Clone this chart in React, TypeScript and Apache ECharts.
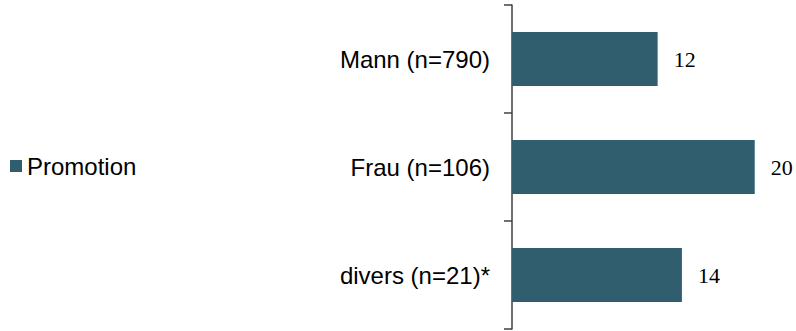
import React, { useEffect, useRef } from "react";
import * as echarts from "echarts";

const categories = ["Mann (n=790)", "Frau (n=106)", "divers (n=21)*"];
const seriesName = "Promotion";
const values = [12, 20, 14];

export default function App() {
  const ref = useRef<HTMLDivElement>(null);
  useEffect(() => {
    if (!ref.current) return;
    const chart = echarts.init(ref.current, null, { renderer: "svg" });
    chart.setOption({
      animation: false,
      backgroundColor: "#ffffff",
      legend: {
        data: [seriesName],
        left: 5,
        top: 149,
        orient: "vertical",
        itemWidth: 12,
        itemHeight: 12,
        icon: "rect",
        textStyle: { fontFamily: "Liberation Sans, Arial, sans-serif", fontSize: 24, color: "#000" },
      },
      grid: { left: 512, top: 5, bottom: 2, right: 17, containLabel: false },
      xAxis: {
        type: "value",
        min: 0,
        max: 22,
        show: false,
      },
      yAxis: {
        type: "category",
        data: categories,
        inverse: true,
        axisLine: { show: true, lineStyle: { color: "#404040", width: 1.5 } },
        axisTick: { show: true, length: 8, lineStyle: { color: "#404040", width: 1.5 } },
        axisLabel: {
          margin: 22,
          fontFamily: "Liberation Sans, Arial, sans-serif",
          fontSize: 24,
          color: "#000",
        },
      },
      series: [
        {
          name: seriesName,
          type: "bar",
          data: values,
          barWidth: "50%",
          itemStyle: { color: "#305E6F" },
          label: {
            show: true,
            position: "right",
            distance: 16,
            fontFamily: "Liberation Serif, Times New Roman, serif",
            fontSize: 22,
            color: "#000",
          },
        },
      ],
    });
    return () => chart.dispose();
  }, []);
  return (
    <div
      ref={ref}
      style={{ position: "fixed", left: 0, top: 0, width: 796, height: 331 }}
    />
  );
}
